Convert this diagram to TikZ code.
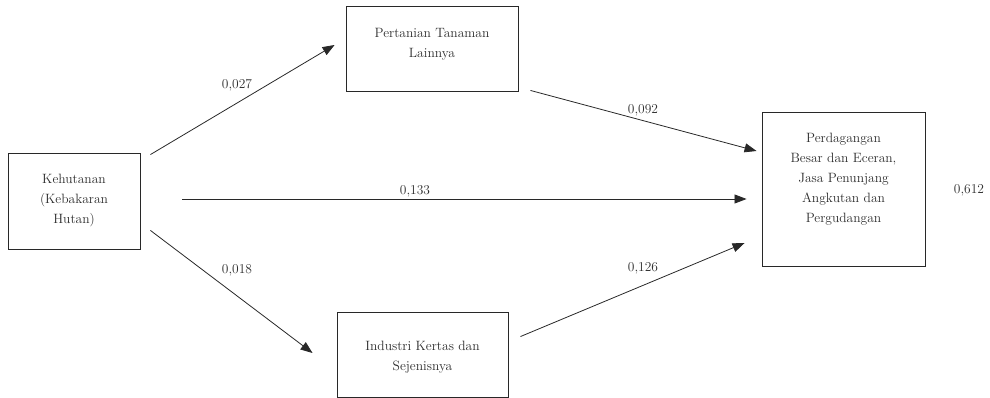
\documentclass[tikz,border=0pt]{standalone}
\usepackage{tikz}
\usetikzlibrary{arrows.meta,calc}
\definecolor{lineGray}{RGB}{40, 40, 40}
\definecolor{textGray}{RGB}{45, 45, 45}

\begin{document}
\begin{tikzpicture}[x=1pt,y=-1pt,
    sector/.style={draw=lineGray, line width=0.9pt, align=center, inner sep=0pt,
      text=textGray, font=\fontsize{13.5}{20}\selectfont},
    path/.style={draw=lineGray, line width=0.8pt,
      -{Triangle[length=12pt,width=9pt]}},
    coef/.style={text=textGray, font=\fontsize{13.5}{16}\selectfont, inner sep=0pt}]
      \useasboundingbox (0,0) rectangle (990,398);

      % sector boxes
      \node[sector, minimum width=132pt, minimum height=96pt] (kehutanan) at (74,201)
        {Kehutanan\\(Kebakaran\\Hutan)};
      \node[sector, minimum width=172pt, minimum height=85pt] (pertanian) at (432,48.5)
        {Pertanian Tanaman\\Lainnya\\[-8pt]};
      \node[sector, minimum width=171pt, minimum height=85pt] (industri) at (422.5,354.5)
        {\\[-6pt]Industri Kertas dan\\Sejenisnya};
      \node[sector, minimum width=163pt, minimum height=154pt] (perdagangan) at (843.5,189)
        {Perdagangan\\Besar dan Eceran,\\Jasa Penunjang\\Angkutan dan\\Pergudangan\\[2pt]};

      % paths out of Kehutanan
      \draw[path] ($(kehutanan.north east)+(10,2)$) -- ($(pertanian.west)+(-11,-3.5)$);
      \draw[path] ($(kehutanan.east)+(42,-2)$) -- ($(perdagangan.west)+(-15,10)$);
      \draw[path] ($(kehutanan.south east)+(10,-19)$) -- ($(industri.west)+(-24,-1.5)$);

      % paths into Perdagangan
      \draw[path] ($(pertanian.south east)+(12,-1)$) -- ($(perdagangan.west)+(-5,-38)$);
      \draw[path] ($(industri.north east)+(12,25)$) -- ($(perdagangan.west)+(-17,54)$);

      % coefficients
      \node[coef] (c1) at (237,85) {0,027};
      \node[coef] (c2) at (415,191) {0,133};
      \node[coef] (c3) at (643,110) {0,092};
      \node[coef] (c4) at (237,270) {0,018};
      \node[coef] (c5) at (643,268) {0,126};
      \node[coef] (r2) at (969,190) {0,612};
\end{tikzpicture}
\end{document}
